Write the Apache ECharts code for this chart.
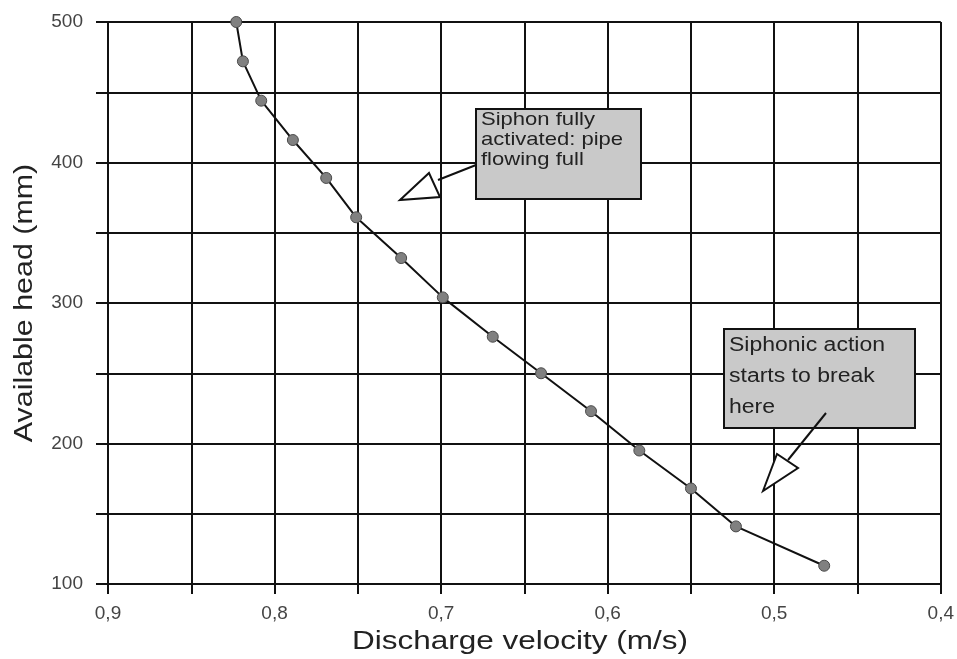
<!DOCTYPE html>
<html>
<head>
<meta charset="utf-8">
<script src="https://cdn.jsdelivr.net/npm/echarts@6/dist/echarts.min.js"></script>
<style>
  html, body { margin: 0; padding: 0; background: #fff; }
  #chart { width: 957px; height: 659px; }
</style>
</head>
<body>
<div id="chart"></div>
<script>
// discharge velocity (m/s) vs available head (mm)
const velocity = [0.823, 0.819, 0.808, 0.789, 0.769, 0.751, 0.724, 0.699, 0.669, 0.640, 0.610, 0.581, 0.550, 0.523, 0.470];
const head     = [500, 472, 444, 416, 389, 361, 332, 304, 276, 250, 223, 195, 168, 141, 113];

const xTitle = 'Discharge velocity (m/s)';
const yTitle = 'Available head (mm)';
const note1 = ['Siphon fully', 'activated: pipe', 'flowing full'];
const note2 = ['Siphonic action', 'starts to break', 'here'];

const points = velocity.map((v, i) => [v, head[i]]);

const chart = echarts.init(document.getElementById('chart'));

const fontFam = 'Liberation Sans, Arial, sans-serif';

// the source picture is stretched sideways a bit, so text gets a scaleX
function noteBox(x, y, w, h, lines, size, lh, sx)
{
   return [
      {
         type: 'rect',
         shape: { x: x, y: y, width: w, height: h },
         style: { fill: '#c9c9c9', stroke: '#111', lineWidth: 2 },
         z: 100
      },
      {
         type: 'text',
         x: x + 5, y: y + 1,
         scaleX: sx,
         style: { text: lines.join('\n'), font: size + 'px ' + fontFam, fill: '#222', lineHeight: lh },
         z: 101
      }
   ];
}

function arrow(from, neck, tip, baseA, baseB)
{
   return [
      {
         type: 'polyline',
         shape: { points: [from, neck] },
         style: { stroke: '#111', lineWidth: 2, fill: null },
         z: 100
      },
      {
         type: 'polygon',
         shape: { points: [tip, baseA, baseB] },
         style: { fill: '#fff', stroke: '#111', lineWidth: 2 },
         z: 100
      }
   ];
}

const option =
{
   backgroundColor: '#fff',
   animation: false,
   grid: { left: 108, right: 14, top: 22, bottom: 75 },
   xAxis:
   {
      type: 'value',
      inverse: true,
      min: 0.4,
      max: 0.9,
      interval: 0.05,
      axisLine: { lineStyle: { color: '#111', width: 2 } },
      axisTick: { show: true, length: 10, lineStyle: { color: '#111', width: 2 } },
      axisLabel:
      {
         fontSize: 19, color: '#444', fontFamily: fontFam, margin: 20,
         showMinLabel: true, showMaxLabel: true,
         formatter: v => (Math.round(v * 100) % 10 === 0) ? v.toFixed(1).replace('.', ',') : ''
      },
      splitLine: { show: true, lineStyle: { color: '#111', width: 2 } }
   },
   yAxis:
   {
      type: 'value',
      min: 100,
      max: 500,
      interval: 50,
      axisLine: { show: true, lineStyle: { color: '#111', width: 2 } },
      axisTick: { show: true, length: 12, lineStyle: { color: '#111', width: 2 } },
      axisLabel:
      {
         fontSize: 19, color: '#444', fontFamily: fontFam, margin: 25,
         formatter: v => (v % 100 === 0) ? String(v) : ''
      },
      splitLine: { show: true, lineStyle: { color: '#111', width: 2 } }
   },
   series:
   [
      {
         type: 'line',
         data: points,
         symbol: 'circle',
         symbolSize: 11,
         lineStyle: { color: '#111', width: 2 },
         itemStyle: { color: '#808080', borderColor: '#4a4a4a', borderWidth: 1 },
         z: 10
      }
   ],
   graphic:
   [
      {
         type: 'text',
         x: 520, y: 642,
         scaleX: 1.26,
         style: { text: xTitle, font: '25px ' + fontFam, fill: '#222', align: 'center', verticalAlign: 'middle' }
      },
      {
         type: 'text',
         x: 25, y: 303,
         rotation: Math.PI / 2,
         scaleX: 1.17,
         style: { text: yTitle, font: '26px ' + fontFam, fill: '#222', align: 'center', verticalAlign: 'middle' }
      },
      ...noteBox(476, 109, 165, 90, note1, 19, 20, 1.16),
      ...arrow([476, 165], [438, 180], [400, 200], [429, 173], [440, 197]),
      ...noteBox(724, 329, 191, 99, note2, 20, 31, 1.15),
      ...arrow([826, 413], [788, 460], [763, 491], [777, 454], [798, 468])
   ]
};

chart.setOption(option);
</script>
</body>
</html>
